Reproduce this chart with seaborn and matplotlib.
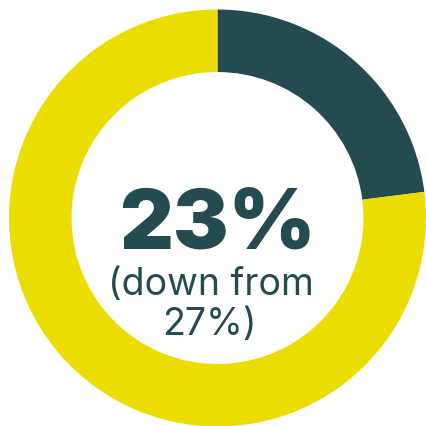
import matplotlib
matplotlib.use("Agg")
import matplotlib.pyplot as plt
import seaborn as sns

sns.set_theme(style="white")

labels = ["Share", "Rest"]
values = [23, 77]
colors = ["#244B50", "#EBDD00"]
headline = "23%"
subline_1 = "(down from"
subline_2 = "27%)"
text_color = "#244B50"

fig = plt.figure(figsize=(4.27, 4.27), dpi=100)
ax = fig.add_axes([0, 0, 1, 1])
ax.pie(values, colors=colors, startangle=90, counterclock=False,
       radius=1.0, wedgeprops=dict(width=0.30, edgecolor="none", linewidth=0))

S = 208.5
CX, CY = 217.5, 219.0
ax.set_xlim(-CX / S, (427 - CX) / S)
ax.set_ylim(-(427 - CY) / S, CY / S)
ax.set_aspect("equal")
ax.axis("off")

def d(px, py):
    return (px - CX) / S, (CY - py) / S

x, y = d(217.5, 249)
ax.text(x, y, headline, ha="center", va="baseline", fontsize=60,
        fontweight=900, family=["Inter", "DejaVu Sans"], color=text_color)
x, y = d(211, 295)
ax.text(x, y, subline_1, ha="center", va="baseline", fontsize=27,
        family=["Inter", "DejaVu Sans"], color=text_color)
x, y = d(209, 335)
ax.text(x, y, subline_2, ha="center", va="baseline", fontsize=27,
        family=["Inter", "DejaVu Sans"], color=text_color)

fig.savefig("out.png", dpi=100, facecolor="white")
